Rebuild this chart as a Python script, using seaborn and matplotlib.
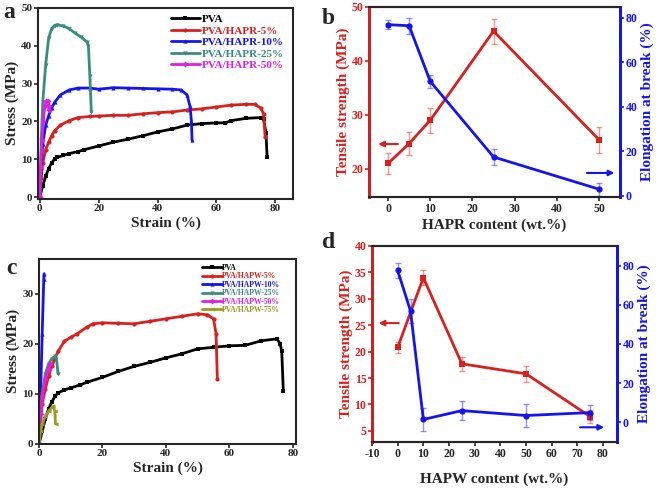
import numpy as np
import pandas as pd
import matplotlib
matplotlib.use("Agg")
import matplotlib.pyplot as plt
import seaborn as sns

# ---- panel a: PVA/HAPR stress-strain curves ----
a_pva_x = [0, 1, 2, 3, 4, 5, 6, 8, 10, 13, 15, 20, 25, 30, 35, 40, 45, 50, 55, 60, 63, 65, 70, 75, 76, 76.8, 77.2]
a_pva_y = [0, 3, 5.5, 7.5, 9, 10, 10.5, 11, 11.5, 12, 12.5, 13.5, 14.5, 15.3, 16.2, 17.2, 18, 19, 19.4, 19.6, 19.6, 20.2, 20.8, 21, 20.5, 17, 10.5]
a_5_x = [0, 0.5, 1, 2, 3, 4, 5, 7, 10, 13, 17, 20, 25, 30, 35, 40, 45, 50, 55, 60, 65, 70, 73, 75, 76, 76.5]
a_5_y = [0, 5, 9, 12.5, 14.5, 16.2, 17.5, 19, 20.2, 21, 21.3, 21.4, 21.6, 21.6, 22, 22.3, 22.5, 23, 23.3, 23.8, 24.3, 24.5, 24.5, 23.5, 22, 16]
a_10_x = [0, 0.5, 1, 2, 3, 4, 5, 7, 10, 13, 17, 20, 25, 30, 35, 40, 45, 48, 50, 51, 51.5, 51.7]
a_10_y = [0, 8, 14, 19, 21.5, 23.5, 25, 27, 28.3, 28.8, 28.8, 28.5, 28.9, 28.8, 28.7, 28.6, 28.5, 28.3, 27, 24, 20, 15]
a_25_x = [0, 0.5, 1, 2, 3, 4, 5, 6, 8, 10, 12, 14, 16, 16.5, 17, 17.5]
a_25_y = [0, 15, 25, 35, 42, 44.5, 45.3, 45.5, 45.2, 44.5, 43.3, 42.3, 41, 40, 32, 22.5]
a_50_x = [0, 0.3, 0.7, 1.2, 1.7, 2.2, 2.8, 3.0, 3.0]
a_50_y = [0, 8, 15, 20, 24, 25.3, 25.3, 24, 23]

# ---- panel c: PVA/HAPW stress-strain curves ----
c_pva_x = [0, 1, 2, 3, 4, 5, 6, 8, 10, 13, 15, 20, 25, 30, 35, 40, 45, 50, 55, 60, 65, 70, 75, 76, 76.5, 77]
c_pva_y = [0, 2.5, 5, 7, 8.3, 9.5, 10.2, 10.8, 11.2, 11.8, 12.3, 13.3, 14.5, 15.5, 16.3, 17.2, 18, 19, 19.3, 19.6, 19.7, 20.6, 21, 20, 18.5, 10.5]
c_5_x = [0, 1, 2, 3, 4, 5, 6, 8, 10, 12, 15, 17, 20, 25, 30, 35, 40, 45, 50, 53, 55, 55.8, 56.2]
c_5_y = [0, 8, 11, 13.5, 15.5, 17, 18.5, 20.5, 21.3, 22, 23.3, 24, 24.2, 24.1, 24, 24.5, 25, 25.5, 26, 25.8, 25, 22, 13]
c_10_x = [0, 0.5, 1, 1.5, 1.6]
c_10_y = [0, 10, 22, 33, 34]
c_25_x = [0, 0.5, 1, 2, 3, 4, 5, 5.5, 6]
c_25_y = [0, 6, 10, 14, 16, 17, 17.5, 17, 14]
c_50_x = [0, 0.5, 1, 2, 3, 3.5]
c_50_y = [0, 6, 9.5, 13, 15, 16]
c_75_x = [0, 0.5, 1, 2, 3, 4, 4.5, 5, 5.2]
c_75_y = [0, 2.5, 4, 5.5, 6.5, 7.3, 7.5, 6.5, 4]

# ---- panel b: HAPR content ----
b_content = [0, 5, 10, 25, 50]
b_strength = [21, 24.7, 29, 45.5, 25.4]
b_strength_err = [2, 2.2, 2.3, 2.3, 2.4]
b_elong = [77, 76.5, 51.5, 17.5, 3]
b_elong_err = [2, 3.5, 3, 3.5, 3]

# ---- panel d: HAPW content ----
d_content_s = [0, 10, 25, 50, 75]
d_strength = [20.8, 34, 17.7, 15.8, 7.7]
d_strength_err = [1, 1.4, 1.3, 1.5, 1.2]
d_content_e = [0, 5, 10, 25, 50, 75]
d_elong = [77.5, 56.8, 1.5, 6, 3.5, 5]
d_elong_err = [4, 6, 6, 5, 6, 4]

sns.set_theme(style="ticks")
SERIF = ['Liberation Serif', 'DejaVu Serif']
plt.rcParams['font.family'] = SERIF
plt.rcParams['font.weight'] = 'bold'
plt.rcParams['axes.labelweight'] = 'bold'
plt.rcParams['axes.unicode_minus'] = False

RED = '#d9201f'
BLUE = '#1414f0'
TEAL = '#3a8c80'
MAG = '#e21ee2'
OLIVE = '#9b9b1e'

fig = plt.figure(figsize=(6.59, 4.9), dpi=100)
ax_a = fig.add_axes([0.0577, 0.594, 0.387, 0.390])
ax_b = fig.add_axes([0.560, 0.598, 0.381, 0.388])
ax_c = fig.add_axes([0.0592, 0.094, 0.390, 0.378])
ax_d = fig.add_axes([0.5645, 0.098, 0.372, 0.400])


def curves(ax, series):
    for x, y, color, marker, label in series:
        df = pd.DataFrame({"strain": x, "stress": y})
        sns.lineplot(data=df, x="strain", y="stress", ax=ax, sort=False, estimator=None,
                     color=color, marker=marker, markersize=3, markeredgewidth=0,
                     linewidth=2, label=label)


def style_ticks(ax, size=8):
    for sp in ax.spines.values():
        sp.set_linewidth(1.5)
    ax.tick_params(direction='out', length=3, width=1.2, labelsize=size, pad=1,
                   labelfontfamily='Liberation Serif')
    for t in ax.get_xticklabels() + ax.get_yticklabels():
        t.set_fontweight('bold')
        t.set_fontfamily(SERIF)


# panel a
curves(ax_a, [
    (a_pva_x, a_pva_y, 'black', 's', 'PVA'),
    (a_5_x, a_5_y, RED, 'o', 'PVA/HAPR-5%'),
    (a_10_x, a_10_y, BLUE, '^', 'PVA/HAPR-10%'),
    (a_25_x, a_25_y, TEAL, 'v', 'PVA/HAPR-25%'),
    (a_50_x, a_50_y, MAG, 'D', 'PVA/HAPR-50%'),
])
ax_a.set_xlim(-0.6, 86)
ax_a.set_ylim(-0.5, 50)
ax_a.set_xticks([0, 20, 40, 60, 80])
ax_a.set_yticks([0, 10, 20, 30, 40, 50])
ax_a.set_xlabel("Strain (%)", fontsize=11, labelpad=2)
ax_a.set_ylabel("Stress (MPa)", fontsize=11, labelpad=2)
leg = ax_a.legend(loc='upper right', frameon=False, handlelength=2.6,
                  labelspacing=0.15, borderaxespad=0.2, handletextpad=0.2,
                  prop={'weight': 'bold', 'size': 8, 'family': SERIF},
                  bbox_to_anchor=(0.99, 1.0))
for t, c in zip(leg.get_texts(), ['black', RED, BLUE, TEAL, MAG]):
    t.set_color(c)
style_ticks(ax_a)

# panel c
curves(ax_c, [
    (c_pva_x, c_pva_y, 'black', 's', 'PVA'),
    (c_5_x, c_5_y, RED, 'o', 'PVA/HAPW-5%'),
    (c_10_x, c_10_y, BLUE, '^', 'PVA/HAPW-10%'),
    (c_25_x, c_25_y, TEAL, 'v', 'PVA/HAPW-25%'),
    (c_50_x, c_50_y, MAG, 'D', 'PVA/HAPW-50%'),
    (c_75_x, c_75_y, OLIVE, '<', 'PVA/HAPW-75%'),
])
ax_c.set_xlim(0, 81)
ax_c.set_ylim(0, 37)
ax_c.set_xticks([0, 20, 40, 60, 80])
ax_c.set_yticks([0, 10, 20, 30])
ax_c.set_xlabel("Strain (%)", fontsize=11, labelpad=2)
ax_c.set_ylabel("Stress (MPa)", fontsize=11, labelpad=2)
leg = ax_c.legend(loc='upper right', frameon=False, handlelength=2.6,
                  labelspacing=0.05, borderaxespad=0.3, handletextpad=0.1,
                  prop={'weight': 'bold', 'size': 5.5, 'family': SERIF},
                  bbox_to_anchor=(0.96, 1.0))
for t, c in zip(leg.get_texts(), ['black', RED, BLUE, TEAL, MAG, OLIVE]):
    t.set_color(c)
style_ticks(ax_c)


def dual(ax, xs, ys, yerr, xe, ye, eerr, xlim, ylim, ylim2, xticks, yticks, yticks2,
         xlabel, arrow_r, arrow_b, xpad):
    df = pd.DataFrame({"content": xs, "strength": ys})
    sns.lineplot(data=df, x="content", y="strength", ax=ax, color=RED, marker='s',
                 markersize=4.5, markeredgewidth=0, linewidth=2)
    ax.errorbar(xs, ys, yerr=yerr, fmt='none', ecolor=RED, alpha=0.45, capsize=2.5,
                elinewidth=1, capthick=1)
    ax2 = ax.twinx()
    df2 = pd.DataFrame({"content": xe, "elong": ye})
    sns.lineplot(data=df2, x="content", y="elong", ax=ax2, color=BLUE, marker='o',
                 markersize=4.5, markeredgewidth=0, linewidth=2)
    ax2.errorbar(xe, ye, yerr=eerr, fmt='none', ecolor=BLUE, alpha=0.45, capsize=2.5,
                 elinewidth=1, capthick=1)
    ax.set_xlim(*xlim)
    ax.set_ylim(*ylim)
    ax2.set_ylim(*ylim2)
    ax.set_xticks(xticks)
    ax.set_yticks(yticks)
    ax2.set_yticks(yticks2)
    ax.set_xlabel(xlabel, fontsize=11, labelpad=xpad)
    ax.set_ylabel("Tensile strength (MPa)", fontsize=11, color=RED, labelpad=1)
    ax2.set_ylabel("Elongation at break (%)", fontsize=11, color=BLUE, labelpad=2)
    style_ticks(ax, 8.5)
    style_ticks(ax2, 8.5)
    for sp in ('left', 'right'):
        ax.spines[sp].set_linewidth(2)
        ax2.spines[sp].set_linewidth(2)
    ax2.spines['left'].set_color(RED)
    ax2.spines['right'].set_color(BLUE)
    ax.tick_params(axis='y', colors=RED)
    ax2.tick_params(axis='y', colors=BLUE)
    for t in ax.get_yticklabels():
        t.set_color(RED)
    for t in ax2.get_yticklabels():
        t.set_color(BLUE)
    (x0, x1, y) = arrow_r
    ax.annotate('', xy=(x0, y), xytext=(x1, y),
                arrowprops=dict(arrowstyle='-|>', color=RED, lw=1.5, mutation_scale=8))
    (x0, x1, y) = arrow_b
    ax2.annotate('', xy=(x1, y), xytext=(x0, y),
                 arrowprops=dict(arrowstyle='-|>', color=BLUE, lw=1.5, mutation_scale=8))


dual(ax_b, b_content, b_strength, b_strength_err, b_content, b_elong, b_elong_err,
     (-4.5, 55), (14.8, 50), (-0.5, 85), [0, 10, 20, 30, 40, 50], [20, 30, 40, 50],
     [0, 20, 40, 60, 80], "HAPR content (wt.%)", (-3, 3, 24.6), (46.5, 54.3, 10.3), 3)
dual(ax_d, d_content_s, d_strength, d_strength_err, d_content_e, d_elong, d_elong_err,
     (-10, 85.5), (2.9, 40), (-10, 90), list(range(-10, 81, 10)),
     [5, 10, 15, 20, 25, 30, 35, 40], [0, 20, 40, 60, 80], "HAPW content (wt.%)",
     (-8.5, 1.5, 25.4), (70, 81.5, -2.5), 9)

for lab, x, y in [('a', 9, 12), ('b', 328, 18), ('c', 11, 268), ('d', 329, 242)]:
    fig.text(x / 659, 1 - y / 490, lab, fontsize=17, fontweight='bold',
             ha='center', va='center')

fig.savefig("out.png", dpi=100)
